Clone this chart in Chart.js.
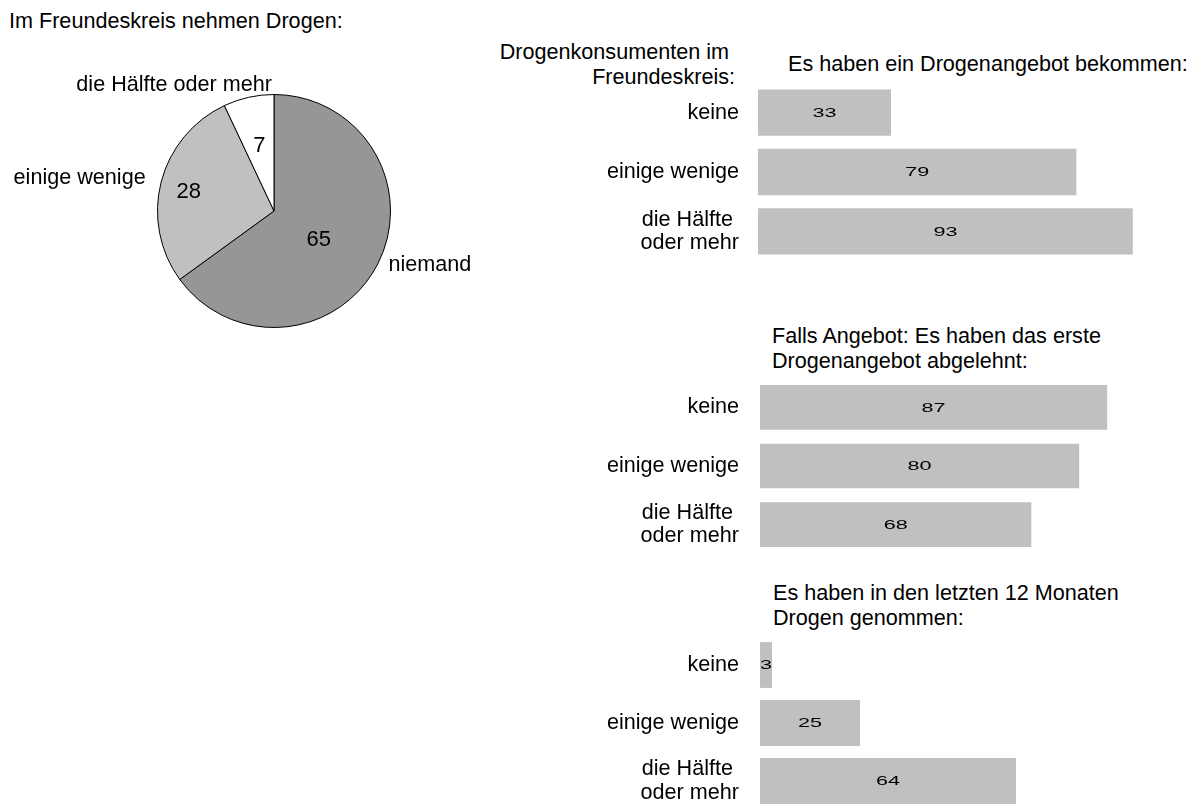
<!DOCTYPE html>
<html><head><meta charset="utf-8">
<script src="https://cdn.jsdelivr.net/npm/chart.js"></script>
<style>
html,body{margin:0;padding:0;width:1204px;height:807px;overflow:hidden;background:#fff;}
.t{position:absolute;font-family:"Liberation Sans",Arial,sans-serif;font-size:21.6px;line-height:25px;color:#000;white-space:pre;}
canvas{position:absolute;}
</style></head><body>
<div class="t" id="pieTitle" style="left:9px;top:8px"></div>
<div class="t" id="axisTitle" style="right:469px;top:39px;text-align:right"></div>
<div class="t" id="title1" style="left:788px;top:51px"></div>
<div class="t" id="title2" style="left:772px;top:323px"></div>
<div class="t" id="title3" style="left:773px;top:580px"></div>
<canvas id="pie" width="548" height="422" style="left:0;top:0"></canvas>
<canvas id="bar1" width="601" height="178" style="left:560px;top:83px"></canvas>
<canvas id="bar2" width="599" height="176" style="left:560px;top:378px"></canvas>
<canvas id="bar3" width="600" height="174" style="left:560px;top:636px"></canvas>
<script>
// ---- data ----
const pieTitle = 'Im Freundeskreis nehmen Drogen:';
const pieCategories = ['niemand', 'einige wenige', 'die Hälfte oder mehr'];
const pieValues = [65, 28, 7];

const axisTitleLines = ['Drogenkonsumenten im ', 'Freundeskreis:'];
const barCategories = ['keine', 'einige wenige', ['die Hälfte ', 'oder mehr']];

const offerTitle = ['Es haben ein Drogenangebot bekommen:'];
const offerValues = [33, 79, 93];

const refusedTitle = ['Falls Angebot: Es haben das erste', 'Drogenangebot abgelehnt:'];
const refusedValues = [87, 80, 68];

const usedTitle = ['Es haben in den letzten 12 Monaten', 'Drogen genommen:'];
const usedValues = [3, 25, 64];

// ---- text ----
document.getElementById('pieTitle').textContent = pieTitle;
document.getElementById('axisTitle').textContent = axisTitleLines.join('\n');
document.getElementById('title1').textContent = offerTitle.join('\n');
document.getElementById('title2').textContent = refusedTitle.join('\n');
document.getElementById('title3').textContent = usedTitle.join('\n');

const FONT = '"Liberation Sans", Arial, sans-serif';
Chart.defaults.font.family = FONT;
Chart.defaults.color = '#000';
Chart.defaults.animation = false;

// ---- pie ----
const pieColors = ['#969696', '#c0c0c0', '#ffffff'];
const pieInside = [{f: 0.43, dy: 6}, {f: 0.755, dy: 3}, {f: 0.58, dy: 1}];   // value label placement
const pieOutside = [                                                           // category label placement
  {at: 'mid', pad: 12, align: 'left', dx: 0, dy: -4},
  {at: 'mid', pad: 16, align: 'right', dx: 0, dy: 0},
  {at: 'end', pad: 0, align: 'right', dx: -2, dy: -9}
];
const pieLabels = {
  id: 'pieLabels',
  afterDatasetsDraw(chart) {
    const ctx = chart.ctx;
    const meta = chart.getDatasetMeta(0);
    const data = chart.data.datasets[0].data;
    ctx.save();
    ctx.fillStyle = '#000';
    ctx.textBaseline = 'middle';
    meta.data.forEach((arc, i) => {
      const p = arc.getProps(['x', 'y', 'startAngle', 'endAngle', 'outerRadius'], true);
      const mid = (p.startAngle + p.endAngle) / 2;
      ctx.font = '22px ' + FONT;
      ctx.textAlign = 'center';
      const r = p.outerRadius * pieInside[i].f;
      ctx.fillText(String(data[i]), p.x + Math.cos(mid) * r, p.y + Math.sin(mid) * r + pieInside[i].dy);
      const s = pieOutside[i];
      const a = s.at === 'end' ? p.endAngle : mid;
      const ro = p.outerRadius + s.pad;
      ctx.font = '21.6px ' + FONT;
      ctx.textAlign = s.align;
      ctx.fillText(chart.data.labels[i], p.x + Math.cos(a) * ro + s.dx, p.y + Math.sin(a) * ro + s.dy);
    });
    ctx.restore();
  }
};
new Chart(document.getElementById('pie'), {
  type: 'pie',
  data: {labels: pieCategories, datasets: [{data: pieValues, backgroundColor: pieColors, borderColor: '#000', borderWidth: 1}]},
  options: {
    responsive: false, events: [], radius: 116.5,
    layout: {padding: 0},
    plugins: {legend: {display: false}, tooltip: {enabled: false}}
  },
  plugins: [pieLabels]
});

// ---- bars ----
const barValueLabels = {
  id: 'barValueLabels',
  afterDatasetsDraw(chart) {
    const ctx = chart.ctx;
    const meta = chart.getDatasetMeta(0);
    const data = chart.data.datasets[0].data;
    ctx.save();
    ctx.fillStyle = '#000';
    ctx.font = '13.5px ' + FONT;
    ctx.textAlign = 'center';
    ctx.textBaseline = 'middle';
    meta.data.forEach((bar, i) => {
      const p = bar.getProps(['x', 'y', 'base'], true);
      ctx.save();
      ctx.translate((p.x + p.base) / 2, p.y + 0.5);
      ctx.scale(1.6, 1);
      ctx.fillText(String(data[i]), 0, 0);
      ctx.restore();
    });
    ctx.restore();
  }
};
function makeBar(id, values, axisWidth, pad, barPct) {
  new Chart(document.getElementById(id), {
    type: 'bar',
    data: {labels: barCategories, datasets: [{data: values, backgroundColor: '#c0c0c0', borderWidth: 0, barPercentage: barPct, categoryPercentage: 1}]},
    options: {
      indexAxis: 'y', responsive: false, events: [],
      layout: {padding: 0},
      plugins: {legend: {display: false}, tooltip: {enabled: false}},
      scales: {
        x: {display: false, min: 0, max: 100},
        y: {
          grid: {display: false, drawTicks: false},
          border: {display: false},
          ticks: {autoSkip: false, padding: pad, color: '#000', font: {size: 21.6, lineHeight: 1.08}},
          afterFit(axis) { axis.width = axisWidth; axis.paddingTop = 0; axis.paddingBottom = 0; }
        }
      }
    },
    plugins: [barValueLabels]
  });
}
makeBar('bar1', offerValues, 198, 19, 0.78);
makeBar('bar2', refusedValues, 200, 21, 0.76);
makeBar('bar3', usedValues, 200, 21, 0.79);
</script>
</body></html>
